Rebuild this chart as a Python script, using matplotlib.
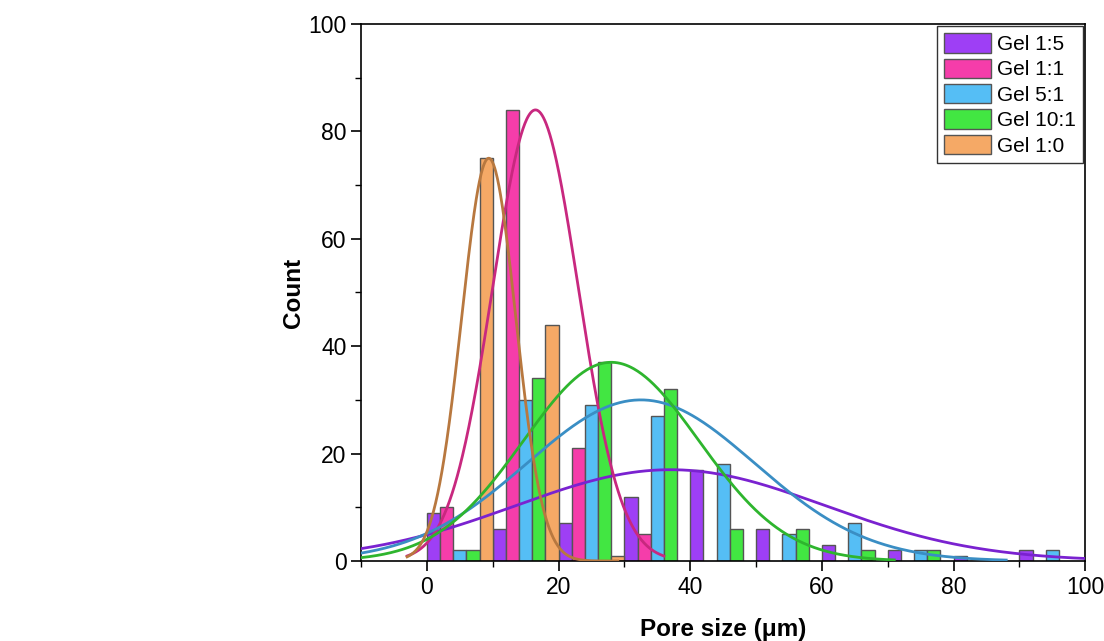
import numpy as np
import matplotlib
matplotlib.use("Agg")
import matplotlib.pyplot as plt

plt.rcParams['font.family'] = ['Liberation Sans', 'DejaVu Sans']

series = ["Gel 1:5", "Gel 1:1", "Gel 5:1", "Gel 10:1", "Gel 1:0"]
bin_starts = [0, 10, 20, 30, 40, 50, 60, 70, 80, 90]
counts_1_5 = [9, 6, 7, 12, 17, 6, 3, 2, 1, 2]
counts_1_1 = [10, 84, 21, 5, 0, 0, 0, 0, 0, 0]
counts_5_1 = [2, 30, 29, 27, 18, 5, 7, 2, 0, 2]
counts_10_1 = [2, 34, 37, 32, 6, 6, 2, 2, 0, 0]
counts_1_0 = [75, 44, 1, 0, 0, 0, 0, 0, 0, 0]

# Gaussian fit parameters: amplitude, centre, sigma, x-range
fit_amp = [17, 84, 30, 37, 75]
fit_mu = [37, 16.5, 32.5, 28, 9.4]
fit_sigma = [23.5, 6.5, 17.3, 13.3, 4.1]
fit_xmin = [-10, -3, -10, -10, -3]
fit_xmax = [100, 36, 88, 71, 29]

bar_colors = ["#9E3FF5", "#F53DAA", "#55BEF5", "#42E642", "#F5A966"]
line_colors = ["#7A22D0", "#C8287F", "#3A8EC4", "#2EB52E", "#B8783F"]

all_counts = [counts_1_5, counts_1_1, counts_5_1, counts_10_1, counts_1_0]

fig = plt.figure(figsize=(11.04, 6.41), dpi=100)
ax = fig.add_axes([0.327, 0.1248, 0.656, 0.8378])

bw = 2.0
for i, (name, cnts) in enumerate(zip(series, all_counts)):
    xs = [b + i * bw for b, c in zip(bin_starts, cnts) if c > 0]
    hs = [c for c in cnts if c > 0]
    ax.bar(xs, hs, width=bw, align='edge', color=bar_colors[i],
           edgecolor="#555555", linewidth=1.0, label=name, zorder=2)

for i in range(5):
    x = np.linspace(fit_xmin[i], fit_xmax[i], 400)
    y = fit_amp[i] * np.exp(-(x - fit_mu[i]) ** 2 / (2 * fit_sigma[i] ** 2))
    ax.plot(x, y, color=line_colors[i], lw=2.0, zorder=3)

ax.set_xlim(-10, 100)
ax.set_ylim(0, 100)
ax.set_xticks([0, 20, 40, 60, 80, 100])
ax.set_xticks([-10, 10, 30, 50, 70, 90], minor=True)
ax.set_yticks([0, 20, 40, 60, 80, 100])
ax.set_yticks([10, 30, 50, 70, 90], minor=True)
ax.tick_params(axis='both', which='major', direction='out', length=7, width=1.2,
               labelsize=16.5, top=False, right=False)
ax.tick_params(axis='both', which='minor', direction='out', length=4, width=1.0,
               top=False, right=False)
for s in ax.spines.values():
    s.set_linewidth(1.2)

ax.set_xlabel("Pore size (\u03bcm)", fontsize=17.5, fontweight='bold')
ax.xaxis.set_label_coords(0.5, -0.128)
ax.xaxis.label.set_va('center')
ax.set_ylabel("Count", fontsize=17.5, fontweight='bold', labelpad=2)

leg = ax.legend(loc='upper right', fontsize=15, frameon=True, fancybox=False,
                edgecolor='black', handlelength=2.25, handleheight=1.05,
                handletextpad=0.3, labelspacing=0.22, borderpad=0.35,
                borderaxespad=0.1)
leg.get_frame().set_linewidth(1.0)

fig.savefig("out.png", dpi=100)
